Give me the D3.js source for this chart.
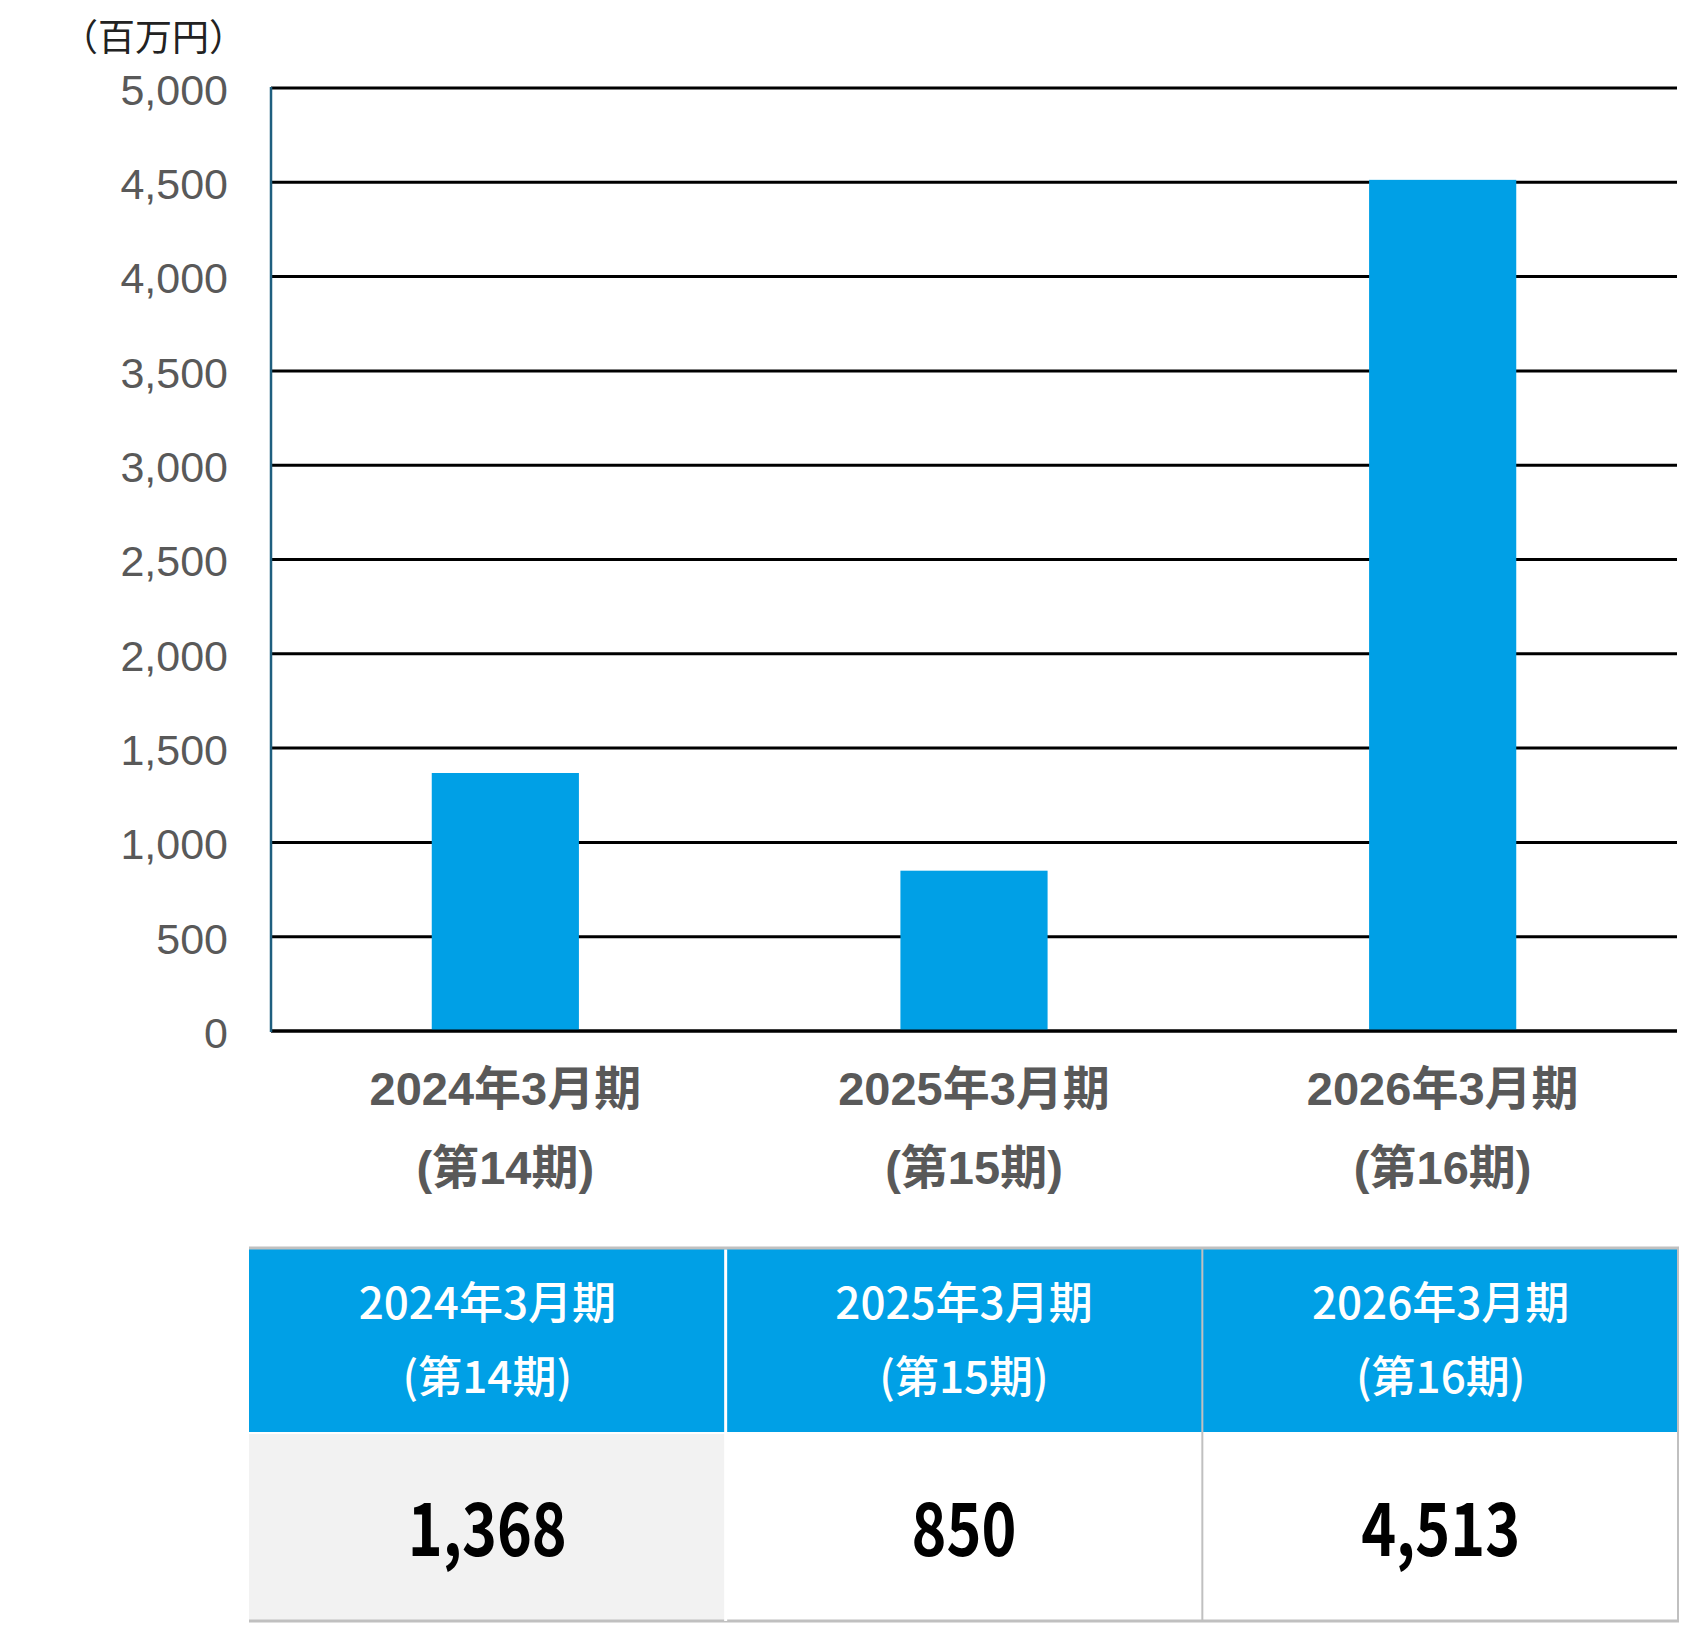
<!DOCTYPE html>
<html>
<head>
<meta charset="utf-8">
<script src="https://cdn.jsdelivr.net/npm/d3@7"></script>
<style>
  body { margin: 0; background: #fff; }
  svg { display: block; }
</style>
</head>
<body>
<svg id="chart" width="1682" height="1625"></svg>
<script>
// data
const periods = ["2024年3月期", "2025年3月期", "2026年3月期"];
const terms = ["(第14期)", "(第15期)", "(第16期)"];
const values = [1368, 850, 4513];
const yTicks = [0, 500, 1000, 1500, 2000, 2500, 3000, 3500, 4000, 4500, 5000];
const unitLabel = "（百万円）";

const svg = d3.select("#chart");
const blue = "#00a0e6";
const gray = "#595959";
const cjk = "'Liberation Sans', Arial, 'Noto Sans CJK JP', sans-serif";

// chart specs
let plot = { left: 271, right: 1677, top: 88, bottom: 1031 };

let yScale = d3.scaleLinear().domain([0, 5000]).range([plot.bottom, plot.top]);
let xScale = d3
  .scaleBand()
  .domain(periods)
  .range([plot.left, plot.right])
  .paddingInner(0.686)
  .paddingOuter(0.343);

// gridlines
svg
  .append("g")
  .selectAll("line")
  .data(yTicks)
  .enter()
  .append("line")
  .attr("x1", plot.left)
  .attr("x2", plot.right)
  .attr("y1", (d) => yScale(d))
  .attr("y2", (d) => yScale(d))
  .attr("stroke", "#000")
  .attr("stroke-width", 3);

// y axis labels
let yAxis = d3
  .axisLeft(yScale)
  .tickValues(yTicks)
  .tickSize(0)
  .tickPadding(43)
  .tickFormat(d3.format(","));
let yg = svg.append("g").attr("transform", `translate(${plot.left},0)`).call(yAxis);
yg.select(".domain").remove();
yg.selectAll("text")
  .attr("font-family", "'Liberation Sans', Arial, sans-serif")
  .attr("font-size", 43)
  .attr("fill", gray)
  .attr("dy", "0.38em");

// unit label
svg
  .append("text")
  .attr("x", 246)
  .attr("y", 51)
  .attr("text-anchor", "end")
  .attr("font-family", "'Noto Sans CJK JP', sans-serif")
  .attr("font-size", 37)
  .attr("fill", "#222")
  .text(unitLabel);

// bars
svg
  .append("g")
  .selectAll("rect")
  .data(values)
  .enter()
  .append("rect")
  .attr("x", (d, i) => xScale(periods[i]))
  .attr("width", xScale.bandwidth())
  .attr("y", (d) => yScale(d))
  .attr("height", (d) => yScale(0) - yScale(d))
  .attr("fill", blue);

// baseline + vertical axis line
svg
  .append("line")
  .attr("x1", plot.left)
  .attr("x2", plot.right)
  .attr("y1", yScale(0))
  .attr("y2", yScale(0))
  .attr("stroke", "#000")
  .attr("stroke-width", 3);
svg
  .append("line")
  .attr("x1", plot.left)
  .attr("x2", plot.left)
  .attr("y1", yScale(5000) - 1)
  .attr("y2", yScale(0) + 1)
  .attr("stroke", "#1f5f7f")
  .attr("stroke-width", 2.5);

// category labels under bars
let xl = svg
  .append("g")
  .selectAll("g")
  .data(periods)
  .enter()
  .append("g")
  .attr("transform", (d) => `translate(${xScale(d) + xScale.bandwidth() / 2},0)`);
xl.append("text")
  .attr("y", 1105)
  .attr("text-anchor", "middle")
  .attr("font-family", cjk)
  .attr("font-weight", "bold")
  .attr("font-size", 47)
  .attr("fill", gray)
  .text((d) => d);
xl.append("text")
  .attr("y", 1184)
  .attr("text-anchor", "middle")
  .attr("font-family", cjk)
  .attr("font-weight", "bold")
  .attr("font-size", 47)
  .attr("fill", gray)
  .text((d, i) => terms[i]);

/////////////////////////
// data table below chart //
/////////////////////////
let table = { left: 249, right: 1679, top: 1248, mid: 1433, bottom: 1621 };
let colScale = d3.scaleBand().domain(periods).range([table.left, table.right]);

let cols = svg
  .append("g")
  .selectAll("g")
  .data(periods)
  .enter()
  .append("g");

cols
  .append("rect")
  .attr("x", (d) => colScale(d))
  .attr("y", table.top)
  .attr("width", colScale.bandwidth())
  .attr("height", table.mid - table.top)
  .attr("fill", blue);
cols
  .append("rect")
  .attr("x", (d) => colScale(d))
  .attr("y", table.mid)
  .attr("width", colScale.bandwidth())
  .attr("height", table.bottom - table.mid)
  .attr("fill", (d, i) => (i === 0 ? "#f2f2f2" : "#fff"));

cols
  .append("text")
  .attr("x", (d) => colScale(d) + colScale.bandwidth() / 2)
  .attr("y", 1319)
  .attr("text-anchor", "middle")
  .attr("font-family", "'Noto Sans CJK JP', sans-serif")
  .attr("font-weight", 500)
  .attr("font-size", 44)
  .attr("fill", "#fff")
  .text((d) => d);
cols
  .append("text")
  .attr("x", (d) => colScale(d) + colScale.bandwidth() / 2)
  .attr("y", 1393)
  .attr("text-anchor", "middle")
  .attr("font-family", "'Noto Sans CJK JP', sans-serif")
  .attr("font-weight", 500)
  .attr("font-size", 44)
  .attr("fill", "#fff")
  .text((d, i) => terms[i]);
// values: squeezed horizontally like the condensed face in the original
cols
  .append("text")
  .attr("transform", (d) => `translate(${colScale(d) + colScale.bandwidth() / 2},1556) scale(0.8,1)`)
  .attr("text-anchor", "middle")
  .attr("font-family", "'Noto Sans CJK JP', sans-serif")
  .attr("font-weight", "bold")
  .attr("font-size", 74)
  .attr("fill", "#000")
  .text((d, i) => d3.format(",")(values[i]));

// table borders
svg
  .append("line")
  .attr("x1", table.left)
  .attr("x2", table.right)
  .attr("y1", table.top)
  .attr("y2", table.top)
  .attr("stroke", "#c0c0c0")
  .attr("stroke-width", 3);
svg
  .append("line")
  .attr("x1", table.left)
  .attr("x2", table.right)
  .attr("y1", table.bottom)
  .attr("y2", table.bottom)
  .attr("stroke", "#c0c0c0")
  .attr("stroke-width", 3);
// header divider (white) and body row divider
svg
  .append("line")
  .attr("x1", colScale(periods[1]))
  .attr("x2", colScale(periods[1]))
  .attr("y1", table.top + 1.5)
  .attr("y2", table.bottom)
  .attr("stroke", "#fff")
  .attr("stroke-width", 3);
svg
  .append("line")
  .attr("x1", table.left)
  .attr("x2", table.right)
  .attr("y1", table.mid)
  .attr("y2", table.mid)
  .attr("stroke", "#fff")
  .attr("stroke-width", 2);
[colScale(periods[2]), table.right - 1].forEach((x) => {
  svg
    .append("line")
    .attr("x1", x)
    .attr("x2", x)
    .attr("y1", table.top)
    .attr("y2", table.bottom)
    .attr("stroke", "#c0c0c0")
    .attr("stroke-width", 2);
});
</script>
</body>
</html>
